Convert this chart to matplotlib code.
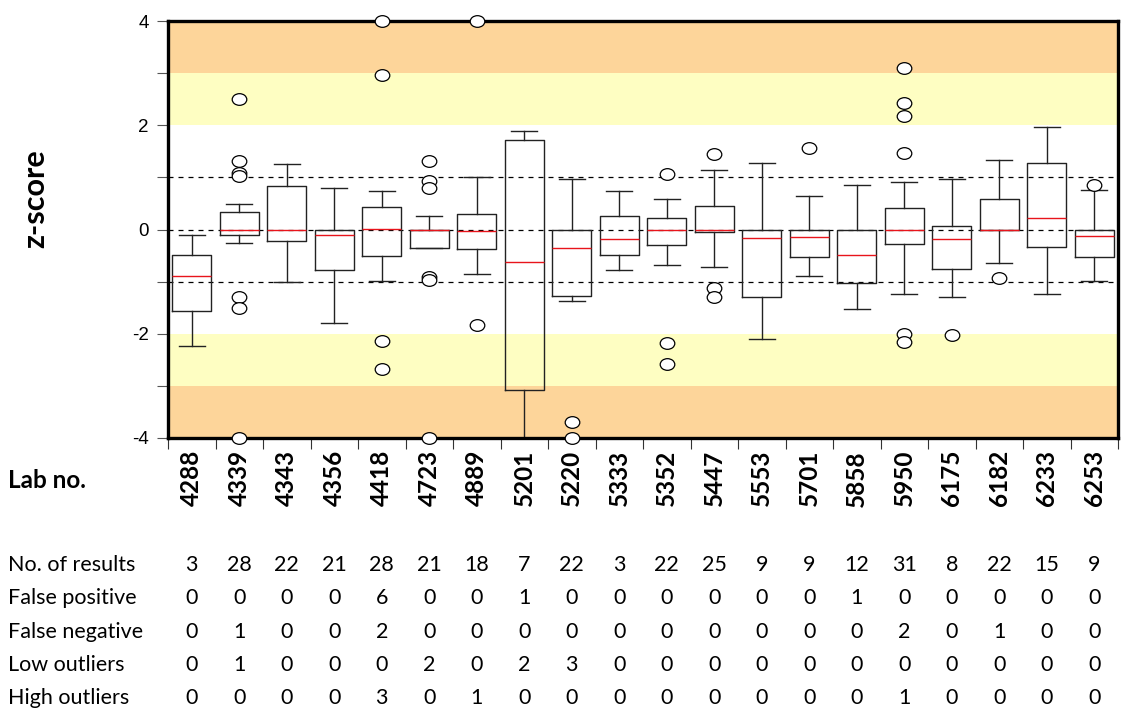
import matplotlib
matplotlib.use("Agg")
import matplotlib.pyplot as plt
from matplotlib.path import Path
from matplotlib.transforms import Affine2D, blended_transform_factory
import numpy as np

labs = ["4288", "4339", "4343", "4356", "4418", "4723", "4889", "5201", "5220", "5333",
        "5352", "5447", "5553", "5701", "5858", "5950", "6175", "6182", "6233", "6253"]
whislo = [-2.24, -0.25, -1.00, -1.79, -0.99, -0.36, -0.85, -4.00, -1.38, -0.78,
          -0.68, -0.72, -2.11, -0.89, -1.53, -1.24, -1.29, -0.65, -1.24, -0.99]
q1 = [-1.56, -0.10, -0.22, -0.78, -0.51, -0.36, -0.37, -3.08, -1.28, -0.49,
      -0.30, -0.04, -1.29, -0.53, -1.03, -0.28, -0.75, 0.00, -0.33, -0.53]
med = [-0.89, 0.00, 0.00, -0.11, 0.01, 0.00, -0.02, -0.62, -0.36, -0.19,
       0.00, -0.01, -0.16, -0.15, -0.49, 0.00, -0.19, 0.00, 0.22, -0.13]
q3 = [-0.49, 0.34, 0.83, 0.00, 0.44, 0.00, 0.29, 1.71, 0.00, 0.26,
      0.23, 0.45, 0.00, 0.00, 0.00, 0.42, 0.06, 0.58, 1.28, 0.00]
whishi = [-0.11, 0.48, 1.26, 0.79, 0.74, 0.26, 1.00, 1.89, 0.96, 0.74,
          0.58, 1.14, 1.28, 0.64, 0.85, 0.92, 0.97, 1.34, 1.96, 0.76]
outliers = [
    [],
    [2.50, 1.32, 1.08, 1.02, -1.30, -1.51, -4.0],
    [],
    [],
    [4.0, 2.96, -2.13, -2.68],
    [1.32, 0.93, 0.80, -0.92, -0.96, -4.0],
    [4.0, -1.84],
    [],
    [-3.70, -4.0],
    [],
    [1.07, -2.18, -2.58],
    [1.44, -1.13, -1.30],
    [],
    [1.56],
    [],
    [3.09, 2.42, 2.17, 1.46, -2.01, -2.16],
    [-2.02],
    [-0.93],
    [],
    [0.85],
]

row_labels = ["No. of results", "False positive", "False negative", "Low outliers", "High outliers"]
n_results = [3, 28, 22, 21, 28, 21, 18, 7, 22, 3, 22, 25, 9, 9, 12, 31, 8, 22, 15, 9]
false_pos = [0, 0, 0, 0, 6, 0, 0, 1, 0, 0, 0, 0, 0, 0, 1, 0, 0, 0, 0, 0]
false_neg = [0, 1, 0, 0, 2, 0, 0, 0, 0, 0, 0, 0, 0, 0, 0, 2, 0, 1, 0, 0]
low_out = [0, 1, 0, 0, 0, 2, 0, 2, 3, 0, 0, 0, 0, 0, 0, 0, 0, 0, 0, 0]
high_out = [0, 0, 0, 0, 3, 0, 1, 0, 0, 0, 0, 0, 0, 0, 0, 1, 0, 0, 0, 0]
table_rows = [n_results, false_pos, false_neg, low_out, high_out]

W, H = 1123, 715
fig = plt.figure(figsize=(W / 100, H / 100), dpi=100)
ax = fig.add_axes([168 / W, 1 - 438 / H, (1118 - 168) / W, (438 - 21) / H])

# bands
ax.axhspan(3, 4, color="#FDD59A", lw=0, zorder=0)
ax.axhspan(2, 3, color="#FEFEC2", lw=0, zorder=0)
ax.axhspan(-3, -2, color="#FEFEC2", lw=0, zorder=0)
ax.axhspan(-4, -3, color="#FDD59A", lw=0, zorder=0)
for yv in (-1, 0, 1):
    ax.axhline(yv, color="black", lw=0.9, ls=(0, (4, 4)), zorder=1)

stats = []
for i in range(len(labs)):
    stats.append(dict(whislo=whislo[i], q1=q1[i], med=med[i], q3=q3[i],
                      whishi=whishi[i], fliers=outliers[i]))

ell = Path.unit_circle().transformed(Affine2D().scale(1.0, 0.8))
pos = np.arange(1, len(labs) + 1)
bp = ax.bxp(stats, positions=pos, widths=0.82, capwidths=0.55, showfliers=True,
            boxprops=dict(color="#222222", lw=1.0),
            whiskerprops=dict(color="#222222", lw=1.0),
            capprops=dict(color="#222222", lw=1.0),
            medianprops=dict(color="#E8141B", lw=1.0),
            flierprops=dict(marker=ell, markersize=10.5, markerfacecolor="white",
                            markeredgecolor="black", markeredgewidth=0.9))
for f in bp["fliers"]:
    f.set_clip_on(False)
    f.set_zorder(5)

ax.set_xlim(0.5, len(labs) + 0.5)
ax.set_ylim(-4, 4)
ax.set_xticks(np.arange(0.5, len(labs) + 1, 1.0))
ax.set_xticklabels([])
ax.set_yticks([-4, -2, 0, 2, 4])
ax.set_yticklabels(["-4", "-2", "0", "2", "4"], fontfamily="Liberation Sans", fontsize=13.5)
ax.set_yticks([-3, -1, 1, 3], minor=True)
ax.tick_params(axis="y", which="both", direction="out", length=8, width=0.8, color="#555555", pad=6)
ax.tick_params(axis="x", direction="out", length=8, width=0.8, color="#333333")
for s in ax.spines.values():
    s.set_linewidth(2.4)
    s.set_color("black")
    s.set_zorder(4)

fig.text(35 / W, 1 - 199 / H, "z-score", rotation=90, ha="center", va="center",
         fontfamily="Lato", fontweight="bold", fontsize=22)
fig.text(8 / W, 1 - 480 / H, "Lab no.", ha="left", va="center",
         fontfamily="Lato", fontweight="bold", fontsize=17.5)

for i, lab in enumerate(labs):
    ax.text(pos[i], -0.029, lab, transform=ax.get_xaxis_transform(), rotation=90,
            ha="center", va="top", fontfamily="Lato", fontweight="bold", fontsize=17.5)

tr = blended_transform_factory(ax.transData, fig.transFigure)
row_y = [565, 598, 632, 665, 698]
for r, (lab, vals) in enumerate(zip(row_labels, table_rows)):
    fig.text(8 / W, 1 - row_y[r] / H, lab, ha="left", va="center",
             fontfamily="Lato", fontsize=15.5)
    for i, v in enumerate(vals):
        ax.text(pos[i], 1 - row_y[r] / H, str(v), transform=tr,
                ha="center", va="center", fontfamily="Lato", fontsize=15.5)

fig.savefig("out.png", dpi=100)
